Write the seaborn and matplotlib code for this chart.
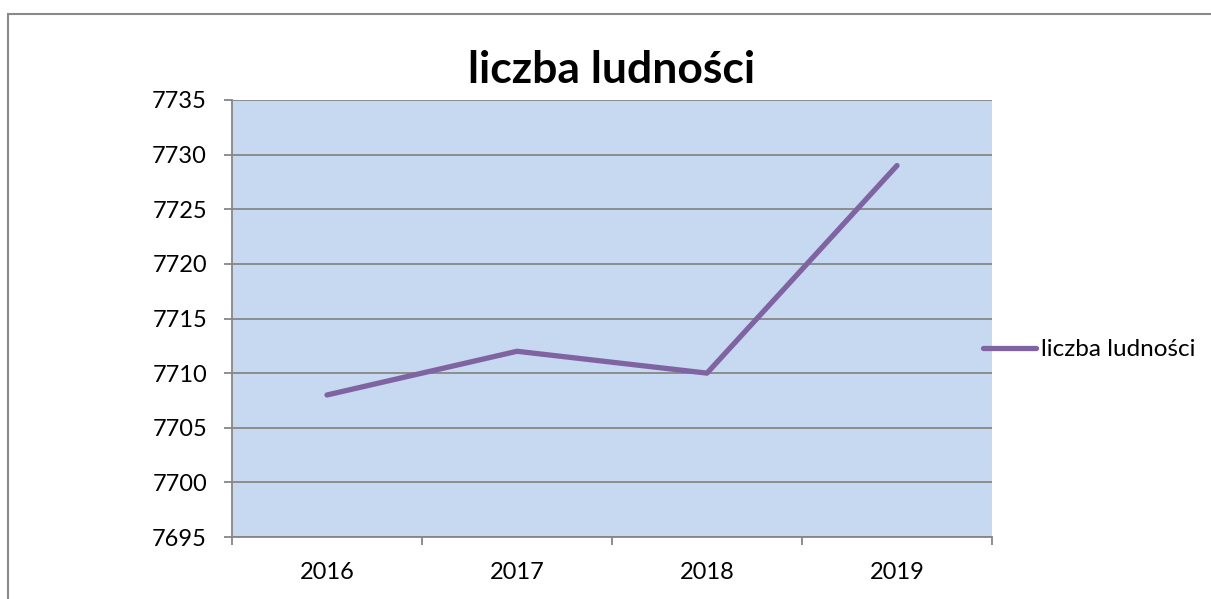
import pandas as pd
import seaborn as sns
import matplotlib.pyplot as plt
from matplotlib.patches import Rectangle

years = ["2016", "2017", "2018", "2019"]
population = [7708, 7712, 7710, 7729]
series_name = "liczba ludności"

df = pd.DataFrame({"pos": range(len(years)), "value": population})

sns.set_style("white")
plt.rcParams["font.family"] = ["Lato", "DejaVu Sans"]
plt.rcParams["text.color"] = "black"
plt.rcParams["xtick.labelcolor"] = "black"
plt.rcParams["ytick.labelcolor"] = "black"

fig = plt.figure(figsize=(12.11, 5.99), dpi=100)
ax = fig.add_axes([232 / 1211, 1 - 537 / 599, 760 / 1211, 437 / 599])
ax.set_facecolor("#C6D9F1")

grid_col = "#868686"
sns.lineplot(x="pos", y="value", data=df, ax=ax, color="#8064A2",
             linewidth=3.8, solid_capstyle="round", label=series_name, zorder=3)

ax.set_ylim(7695, 7735)
ax.set_yticks(range(7695, 7736, 5))
ax.yaxis.grid(True, color=grid_col, linewidth=1.3)
ax.set_axisbelow(True)

ax.set_xlim(-0.5, len(years) - 0.5)
ax.set_xticks([i - 0.5 for i in range(len(years) + 1)])
ax.set_xticklabels([])
ax.set_xticks(range(len(years)), minor=True)
ax.set_xticklabels(years, minor=True)
ax.tick_params(axis="x", which="major", length=6, width=1.3, color=grid_col, direction="out")
ax.tick_params(axis="x", which="minor", length=0, pad=18, labelsize=17, labelcolor="black")
ax.tick_params(axis="y", length=6, width=1.3, color=grid_col, direction="out", labelsize=17,
               pad=12, labelcolor="black")
ax.tick_params(bottom=True, left=True)

for side in ["top", "right"]:
    ax.spines[side].set_visible(False)
for side in ["left", "bottom"]:
    ax.spines[side].set_color(grid_col)
    ax.spines[side].set_linewidth(1.3)

ax.set_xlabel("")
ax.set_ylabel("")
ax.set_title(series_name, fontsize=32, fontweight="bold", pad=12, color="black")

leg = ax.legend(loc="center left", bbox_to_anchor=(0.988, 0.428), frameon=False,
                fontsize=17.5, handlelength=2.2, handletextpad=0.2, borderaxespad=0,
                borderpad=0)
for t in leg.get_texts():
    t.set_color("black")

fig.patches.append(Rectangle((8 / 1211, -0.1), 1.2, 1.1 - 14 / 599,
                             transform=fig.transFigure, fill=False,
                             edgecolor="#898989", linewidth=1.5))

fig.savefig("out.png", dpi=100)
